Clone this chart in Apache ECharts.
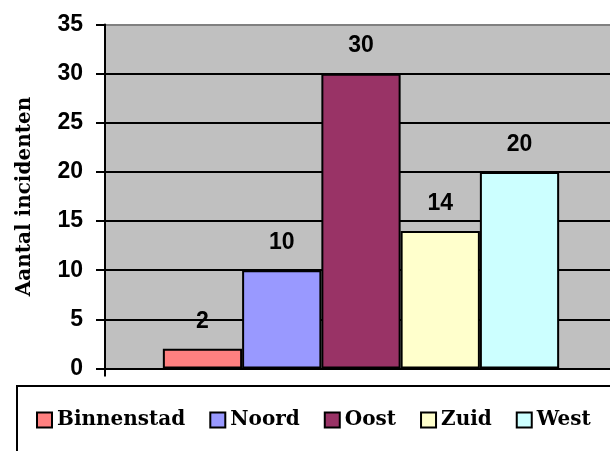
<!DOCTYPE html>
<html>
<head>
<meta charset="utf-8" />
<script src="https://cdn.jsdelivr.net/npm/echarts@6/dist/echarts.min.js"></script>
<style>
  html, body { margin: 0; padding: 0; background: #fff; }
  #chart { width: 610px; height: 451px; }
</style>
</head>
<body>
<div id="chart"></div>
<script>
// gebieden en aantallen
const districts = ["Binnenstad", "Noord", "Oost", "Zuid", "West"];
const incidents = [2, 10, 30, 14, 20];
const districtColors = ["#FF8080", "#9999FF", "#993366", "#FFFFCC", "#CCFFFF"];
const yTicks = [0, 5, 10, 15, 20, 25, 30, 35];

const chart = echarts.init(document.getElementById("chart"), null, { renderer: "canvas" });

const series = districts.map((name, i) => ({
  name: name,
  type: "bar",
  data: [incidents[i]],
  barGap: "0%",
  barCategoryGap: "22.6%",
  itemStyle: {
    color: districtColors[i],
    borderColor: "#000",
    borderWidth: 2
  },
  label: {
    show: true,
    position: "top",
    distance: 16,
    color: "#000",
    fontFamily: "Liberation Sans, Arial",
    fontWeight: "bold",
    fontSize: 23
  }
}));

chart.setOption({
  animation: false,
  graphic: [
    {
      type: "rect",
      z: 0,
      shape: { x: 17, y: 386, width: 700, height: 120 },
      style: { fill: "#fff", stroke: "#000", lineWidth: 2 }
    }
  ],
  grid: {
    left: 105,
    right: -7,
    top: 24.5,
    bottom: 82.5,
    containLabel: false,
    outerBoundsMode: "none",
    show: true,
    backgroundColor: "#C0C0C0",
    borderWidth: 0
  },
  legend: {
    data: districts,
    left: 31,
    top: 405,
    icon: "rect",
    itemWidth: 15,
    itemHeight: 15,
    itemGap: 24,
    itemStyle: { borderColor: "#000", borderWidth: 2 },
    textStyle: {
      color: "#000",
      fontFamily: "DejaVu Serif",
      fontWeight: "bold",
      fontSize: 20
    }
  },
  xAxis: {
    type: "category",
    data: [""],
    axisLabel: { show: false },
    axisLine: { lineStyle: { color: "#000", width: 2 } },
    axisTick: { show: true, length: 8, lineStyle: { color: "#000", width: 2 } }
  },
  yAxis: {
    type: "value",
    min: yTicks[0],
    max: yTicks[yTicks.length - 1],
    interval: 5,
    name: "Aantal incidenten",
    nameLocation: "middle",
    nameRotate: 90,
    nameGap: 70,
    nameTextStyle: {
      color: "#000",
      fontFamily: "DejaVu Serif",
      fontWeight: "bold",
      fontSize: 20
    },
    axisLine: { show: true, lineStyle: { color: "#000", width: 2 } },
    axisTick: { show: true, length: 9, lineStyle: { color: "#000", width: 2 } },
    axisLabel: {
      margin: 22,
      color: "#000",
      fontFamily: "Liberation Sans, Arial",
      fontWeight: "bold",
      fontSize: 23
    },
    splitLine: {
      show: true,
      lineStyle: {
        color: ["#000", "#000", "#000", "#000", "#000", "#000", "#000", "#808080"],
        width: 2
      }
    }
  },
  series: series
});
</script>
</body>
</html>
